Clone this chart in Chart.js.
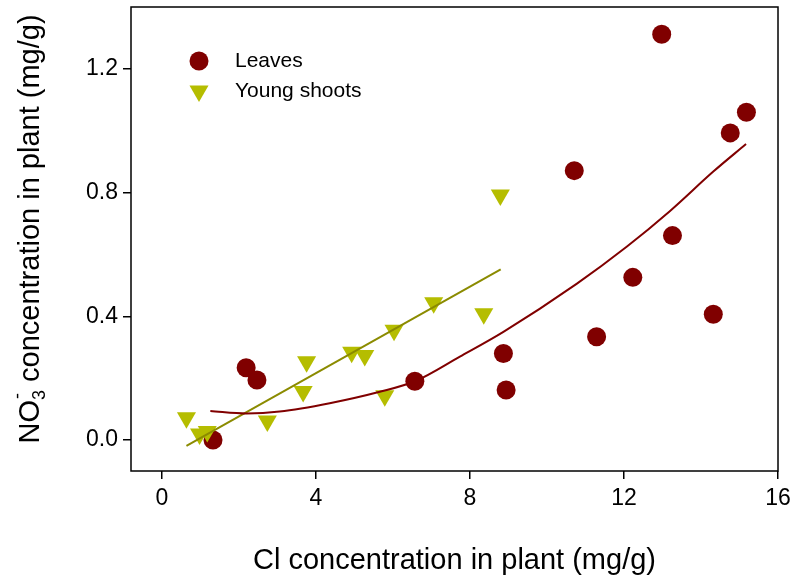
<!DOCTYPE html>
<html>
<head>
<meta charset="utf-8">
<script src="https://cdn.jsdelivr.net/npm/chart.js@4.4.0/dist/chart.umd.min.js"></script>
<style>
  body { margin: 0; background: #fff; }
  #wrap { width: 792px; height: 580px; }
</style>
</head>
<body>
<div id="wrap"><canvas id="no3chart"></canvas></div>
<script>
// values (Cl and NO3- in mg/g)
const leafCl = [1.33, 2.19, 2.47, 6.57, 8.87, 8.94, 10.71, 11.29, 12.23, 12.98, 13.26, 14.32, 14.76, 15.18]
const leafNO3 = [0.0, 0.234, 0.194, 0.19, 0.28, 0.162, 0.871, 0.334, 0.526, 1.312, 0.661, 0.407, 0.993, 1.06]

const shootCl = [0.64, 0.98, 1.18, 2.74, 3.67, 3.76, 4.93, 5.27, 5.79, 6.03, 7.06, 8.36, 8.79]
const shootNO3 = [0.072, 0.02, 0.028, 0.062, 0.157, 0.253, 0.284, 0.273, 0.143, 0.355, 0.444, 0.408, 0.792]

// regression lines as drawn in the figure
const leafFitCl = [1.26, 2.2, 3.06, 4.36, 5.66, 6.57, 7.74, 8.87, 10.77, 12.07, 13.19, 14.32, 15.17]
const leafFitNO3 = [0.094, 0.086, 0.092, 0.119, 0.156, 0.19, 0.27, 0.35, 0.505, 0.625, 0.74, 0.868, 0.957]
const shootFitCl = [0.64, 8.8]
const shootFitNO3 = [-0.019, 0.552]

const xTicks = [0, 4, 8, 12, 16]
const yTicks = [0.0, 0.4, 0.8, 1.2]

const seriesNames = ['Leaves', 'Young shoots']
const xTitle = 'Cl concentration in plant (mg/g)'

const leafColor = '#800000'
const shootColor = '#b5bd00'
const shootLineColor = '#8b8b00'
const fontFamily = "'Liberation Sans', Arial, sans-serif"

const toPoints = (xs, ys) => xs.map((x, i) => ({ x: x, y: ys[i] }))

Chart.defaults.font.family = fontFamily
Chart.defaults.color = '#000'

const framePlugin = {
  id: 'frame',
  afterDraw (chart) {
    const { ctx, chartArea: a } = chart
    ctx.save()
    ctx.strokeStyle = '#000'
    ctx.lineWidth = 1.5
    ctx.strokeRect(a.left, a.top, a.right - a.left, a.bottom - a.top)
    ctx.restore()
  }
}

// legend sits inside the plot, top left
const insideLegend = {
  id: 'insideLegend',
  afterDraw (chart) {
    const ctx = chart.ctx
    const x0 = 199
    const rows = [61, 91]
    ctx.save()
    ctx.font = '21px ' + fontFamily
    ctx.textBaseline = 'middle'
    ctx.textAlign = 'left'
    chart.data.datasets.filter(d => d.showInLegend).forEach((d, i) => {
      const y = rows[i]
      ctx.fillStyle = d.backgroundColor
      ctx.beginPath()
      if (d.pointStyle === 'triangle') {
        const r = d.pointRadius
        ctx.moveTo(x0, y + r)
        ctx.lineTo(x0 - r * Math.sin(Math.PI / 3), y - r / 2)
        ctx.lineTo(x0 + r * Math.sin(Math.PI / 3), y - r / 2)
        ctx.closePath()
      } else {
        ctx.arc(x0, y, d.pointRadius, 0, Math.PI * 2)
      }
      ctx.fill()
      ctx.fillStyle = '#000'
      ctx.fillText(d.label, 235, y)
    })
    ctx.restore()
  }
}

// y title with NO3- (subscript 3, superscript minus stacked)
const yTitlePlugin = {
  id: 'yTitle',
  afterDraw (chart) {
    const ctx = chart.ctx
    const big = '29px ' + fontFamily
    const small = '18px ' + fontFamily
    ctx.save()
    ctx.fillStyle = '#000'
    ctx.textBaseline = 'alphabetic'
    ctx.textAlign = 'left'
    ctx.font = big
    const wNO = ctx.measureText('NO').width
    const rest = ' concentration in plant (mg/g)'
    const wRest = ctx.measureText(rest).width
    ctx.font = small
    const wSub = ctx.measureText('3').width
    const total = wNO + wSub + wRest
    const cy = 229
    ctx.translate(39, cy + total / 2)
    ctx.rotate(-Math.PI / 2)
    ctx.font = big
    ctx.fillText('NO', 0, 0)
    ctx.font = small
    ctx.fillText('3', wNO, 6)
    ctx.fillText('-', wNO + 1, -16)
    ctx.font = big
    ctx.fillText(rest, wNO + wSub, 0)
    ctx.restore()
  }
}

const ctx = document.getElementById('no3chart')
new Chart(ctx, {
  type: 'scatter',
  data: {
    datasets: [
      {
        label: 'leaf fit',
        type: 'line',
        data: toPoints(leafFitCl, leafFitNO3),
        borderColor: leafColor,
        borderWidth: 2,
        pointRadius: 0,
        cubicInterpolationMode: 'monotone',
        fill: false,
        order: 0
      },
      {
        label: 'shoot fit',
        type: 'line',
        data: toPoints(shootFitCl, shootFitNO3),
        borderColor: shootLineColor,
        borderWidth: 2,
        pointRadius: 0,
        fill: false,
        order: 0
      },
      {
        label: seriesNames[0],
        showInLegend: true,
        data: toPoints(leafCl, leafNO3),
        backgroundColor: leafColor,
        borderColor: leafColor,
        borderWidth: 0,
        pointStyle: 'circle',
        pointRadius: 9.5,
        order: 2
      },
      {
        label: seriesNames[1],
        showInLegend: true,
        data: toPoints(shootCl, shootNO3),
        backgroundColor: shootColor,
        borderColor: shootColor,
        borderWidth: 0,
        pointStyle: 'triangle',
        pointRotation: 180,
        pointRadius: 11,
        order: 1
      }
    ]
  },
  options: {
    responsive: true,
    maintainAspectRatio: false,
    animation: false,
    events: [],
    layout: { autoPadding: false, padding: { top: 7, right: 14, left: 0, bottom: 0 } },
    plugins: {
      legend: { display: false },
      tooltip: { enabled: false }
    },
    scales: {
      x: {
        type: 'linear',
        min: -0.8,
        max: 16,
        afterBuildTicks: (scale) => { scale.ticks = xTicks.map(v => ({ value: v })) },
        afterFit: (scale) => {
          scale.height = 109
          scale.paddingLeft = 0
          scale.paddingRight = 0
        },
        grid: { drawOnChartArea: false, drawTicks: true, tickLength: 8, color: '#000', lineWidth: 1.5 },
        border: { display: false },
        ticks: { font: { size: 23 }, padding: 6, maxRotation: 0, autoSkip: false, callback: v => v },
        title: { display: true, text: xTitle, font: { size: 29 }, padding: { top: 0, bottom: 2 } }
      },
      y: {
        type: 'linear',
        min: -0.1,
        max: 1.4,
        afterBuildTicks: (scale) => { scale.ticks = yTicks.map(v => ({ value: v })) },
        afterFit: (scale) => {
          scale.width = 131
          scale.paddingTop = 0
          scale.paddingBottom = 0
        },
        grid: { drawOnChartArea: false, drawTicks: true, tickLength: 8, color: '#000', lineWidth: 1.5 },
        border: { display: false },
        ticks: { font: { size: 23 }, padding: 5, callback: v => v.toFixed(1) }
      }
    }
  },
  plugins: [framePlugin, insideLegend, yTitlePlugin]
})
</script>
</body>
</html>
